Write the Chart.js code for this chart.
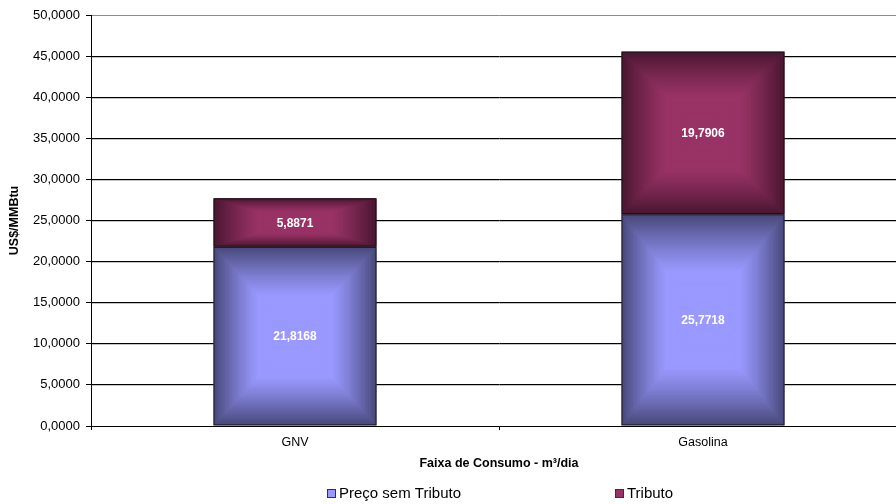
<!DOCTYPE html>
<html>
<head>
<meta charset="utf-8">
<script src="https://cdn.jsdelivr.net/npm/chart.js@4.4.1/dist/chart.umd.min.js"></script>
<style>
  html, body { margin: 0; padding: 0; overflow: hidden; background: #fff; }
  #wrap { width: 912px; height: 504px; }
</style>
</head>
<body>
<div id="wrap"><canvas id="precoChart" width="912" height="504"></canvas></div>
<script>
const categorias = ['GNV', 'Gasolina'];
const precoSemTributo = [21.8168, 25.7718];
const tributo = [5.8871, 19.7906];
const nomesSeries = ['Preço sem Tributo', 'Tributo'];
const yMin = 0, yMax = 50, yPasso = 5;

const coresClaras = ['#9999ff', '#993366'];
const coresEscuras = ['#48487a', '#4a1731'];
const fonte = "'Liberation Sans', Arial, sans-serif";

const fmt = v => v.toFixed(4).replace('.', ',');

function hexRgb(h) {
    const n = parseInt(h.slice(1), 16);
    return [(n >> 16) & 255, (n >> 8) & 255, n & 255];
}
function mistura(a, b, t) {
    const ca = hexRgb(a), cb = hexRgb(b);
    const c = ca.map((v, i) => Math.round(v + (cb[i] - v) * t));
    return `rgb(${c[0]},${c[1]},${c[2]})`;
}

// preenchimento "almofada" do Excel + rótulos + legenda
const efeitoExcel = {
    id: 'efeitoExcel',
    beforeDatasetsDraw(chart) {
        const ctx = chart.ctx;
        const area = chart.chartArea;
        const escalaY = chart.scales.y;
        ctx.save();
        // sombra cinza sob as linhas de grade
        ctx.strokeStyle = '#c4c4c4';
        ctx.lineWidth = 1;
        escalaY.ticks.forEach(t => {
            if (t.value <= yMin || t.value >= yMax) return;
            const py = Math.round(escalaY.getPixelForValue(t.value) - 0.5) + 1.5;
            ctx.beginPath();
            ctx.moveTo(area.left + 1, py);
            ctx.lineTo(area.right, py);
            ctx.stroke();
        });
        chart.data.datasets.forEach((ds, i) => {
            const meta = chart.getDatasetMeta(i);
            meta.data.forEach(bar => {
                const { x, y, base, width } = bar.getProps(['x', 'y', 'base', 'width'], true);
                const top = Math.min(y, base), bottom = Math.max(y, base);
                const cy = (top + bottom) / 2, hw = width / 2, hh = (bottom - top) / 2;
                const passos = 90;
                for (let s = passos; s >= 1; s--) {
                    const t = s / passos;
                    const k = Math.max(0, (t - 0.45) / 0.55);
                    ctx.fillStyle = mistura(coresClaras[i], coresEscuras[i], Math.pow(k, 1.2));
                    ctx.fillRect(x - hw * t, cy - hh * t, 2 * hw * t, 2 * hh * t);
                }
            });
        });
        ctx.restore();
    },
    afterDatasetsDraw(chart) {
        const ctx = chart.ctx;
        ctx.save();
        ctx.fillStyle = '#fff';
        ctx.font = `bold 12px ${fonte}`;
        ctx.textAlign = 'center';
        ctx.textBaseline = 'middle';
        chart.data.datasets.forEach((ds, i) => {
            chart.getDatasetMeta(i).data.forEach((bar, j) => {
                const { x, y, base } = bar.getProps(['x', 'y', 'base'], true);
                ctx.fillText(fmt(ds.data[j]), x, (y + base) / 2 + 1);
            });
        });
        ctx.restore();
    },
    afterDraw(chart) {
        const ctx = chart.ctx;
        const area = chart.chartArea;
        const centro = (area.left + area.right) / 2;
        const inicio = [centro - 172, centro + 116];
        const yLeg = 494;
        ctx.save();
        ctx.font = `15px ${fonte}`;
        ctx.textBaseline = 'middle';
        ctx.textAlign = 'left';
        nomesSeries.forEach((nome, i) => {
            ctx.fillStyle = coresClaras[i];
            ctx.fillRect(inicio[i] + 0.5, yLeg - 4.5, 8, 8);
            ctx.strokeStyle = '#333';
            ctx.lineWidth = 1;
            ctx.strokeRect(inicio[i] + 0.5, yLeg - 4.5, 8, 8);
            ctx.fillStyle = '#000';
            ctx.fillText(nome, inicio[i] + 12, yLeg);
        });
        ctx.restore();
    }
};

new Chart(document.getElementById('precoChart'), {
    type: 'bar',
    data: {
        labels: categorias,
        datasets: [
            {
                label: nomesSeries[0],
                data: precoSemTributo,
                backgroundColor: 'rgba(0,0,0,0)',
                borderColor: '#111',
                borderWidth: 1,
                borderSkipped: false
            },
            {
                label: nomesSeries[1],
                data: tributo,
                backgroundColor: 'rgba(0,0,0,0)',
                borderColor: '#111',
                borderWidth: 1,
                borderSkipped: false
            }
        ]
    },
    options: {
        responsive: false,
        animation: false,
        devicePixelRatio: 1,
        barPercentage: 0.4,
        categoryPercentage: 1,
        layout: { padding: { top: 15, right: 5, bottom: 0, left: 0 } },
        plugins: {
            legend: { display: false },
            tooltip: { enabled: false }
        },
        scales: {
            x: {
                stacked: true,
                afterFit: s => { s.height = 78; },
                border: { display: true, color: '#000', width: 1 },
                grid: { display: true, offset: true, drawOnChartArea: false, color: '#000', tickLength: 4 },
                ticks: { color: '#000', padding: 5, font: { family: fonte, size: 12.5 } },
                title: {
                    display: true,
                    text: 'Faixa de Consumo - m³/dia',
                    color: '#000',
                    font: { family: fonte, size: 12.5, weight: 'bold' },
                    padding: { top: 0, bottom: 32.5 }
                }
            },
            y: {
                stacked: true,
                min: yMin,
                max: yMax,
                afterFit: s => { s.width = 91; },
                border: { display: true, color: '#000', width: 1 },
                grid: {
                    color: c => (c.tick && c.tick.value === yMax ? '#8c8c8c' : '#000'),
                    tickColor: '#000',
                    tickLength: 5
                },
                ticks: {
                    stepSize: yPasso,
                    padding: 6,
                    color: '#000',
                    font: { family: fonte, size: 13 },
                    callback: v => fmt(v)
                },
                title: {
                    display: true,
                    text: 'US$/MMBtu',
                    color: '#000',
                    font: { family: fonte, size: 12.5, weight: 'bold' },
                    padding: { top: 7.5, bottom: 0 }
                }
            }
        }
    },
    plugins: [efeitoExcel]
});
</script>
</body>
</html>
